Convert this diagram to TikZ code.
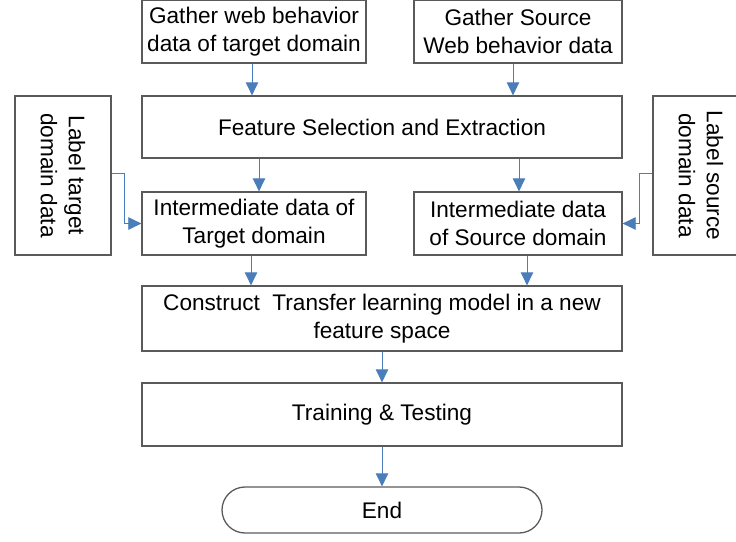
\documentclass[tikz,border=0pt]{standalone}
\usepackage{fontspec}
\setmainfont{Liberation Sans}
\usetikzlibrary{arrows.meta,calc}
\definecolor{arrblue}{HTML}{4A7EBB}
\definecolor{boxgray}{HTML}{5A5A5A}
\begin{document}
\begin{tikzpicture}[x=1pt,y=-1pt,
  box/.style={draw=boxgray,line width=1.3pt,rectangle,inner sep=0pt,align=center,
    font=\fontsize{22.6}{28}\selectfont},
  arr/.style={draw=arrblue,line width=0.9pt,-{Triangle[width=12.5pt,length=13pt]}},
  conn/.style={draw=arrblue,line width=0.7pt,-{Triangle[width=12.5pt,length=13pt]}}]
\useasboundingbox (0,0) rectangle (736,541);
\clip (0,0) rectangle (736,541);
\node[box,minimum width=224pt,minimum height=63pt] (g1) at (254,31.5) {Gather web behavior\\data of target domain};
\node[box,minimum width=208pt,minimum height=63pt] (g2) at (518,31.5) {Gather Source\\Web behavior data};
\node[box,minimum width=480pt,minimum height=62pt] (feat) at (382,127) {Feature Selection and Extraction};
\node[box,minimum width=159pt,minimum height=96pt,rotate=-90] (lab1) at (63,175.5) {Label target\\domain data};
\node[box,minimum width=159pt,minimum height=96pt,rotate=-90] (lab2) at (701,175.5) {Label source\\domain data};
\node[box,minimum width=224pt,minimum height=63pt] (im1) at (254,223.5) {Intermediate data of\\Target domain};
\node[box,minimum width=208pt,minimum height=63pt] (im2) at (518,223.5) {Intermediate data\\of Source domain};
\node[box,minimum width=480pt,minimum height=65pt] (cons) at (382,318.5) {Construct\ \ Transfer learning model in a new\\feature space};
\node[box,minimum width=480pt,minimum height=63pt] (train) at (382,414.5) {Training \& Testing};
\node[box,minimum width=320pt,minimum height=46pt,rounded corners=23pt] (end) at (382,510) {End};
% arrows
\draw[arr] ([xshift=-2pt]g1.south) -- ([xshift=-2pt]g1.south |- feat.north);
\draw[arr] ([xshift=-5pt]g2.south) -- ([xshift=-5pt]g2.south |- feat.north);
\draw[arr] ([xshift=5pt]im1.north |- feat.south) -- ([xshift=5pt]im1.north);
\draw[arr] ([xshift=1pt]im2.north |- feat.south) -- ([xshift=1pt]im2.north);
\draw[arr] ([xshift=-3pt]im1.south) -- ([xshift=-3pt]im1.south |- cons.north);
\draw[arr] ([xshift=9pt]im2.south) -- ([xshift=9pt]im2.south |- cons.north);
\draw[arr] (cons.south) -- (train.north);
\draw[arr] (train.south) -- (end.north);
\draw[conn] (lab1.north |- 0,173) -| ([xshift=-17pt]im1.west) -- (im1.west);
\draw[conn] (lab2.south |- 0,173) -| ([xshift=17pt]im2.east) -- (im2.east);
\end{tikzpicture}
\end{document}
